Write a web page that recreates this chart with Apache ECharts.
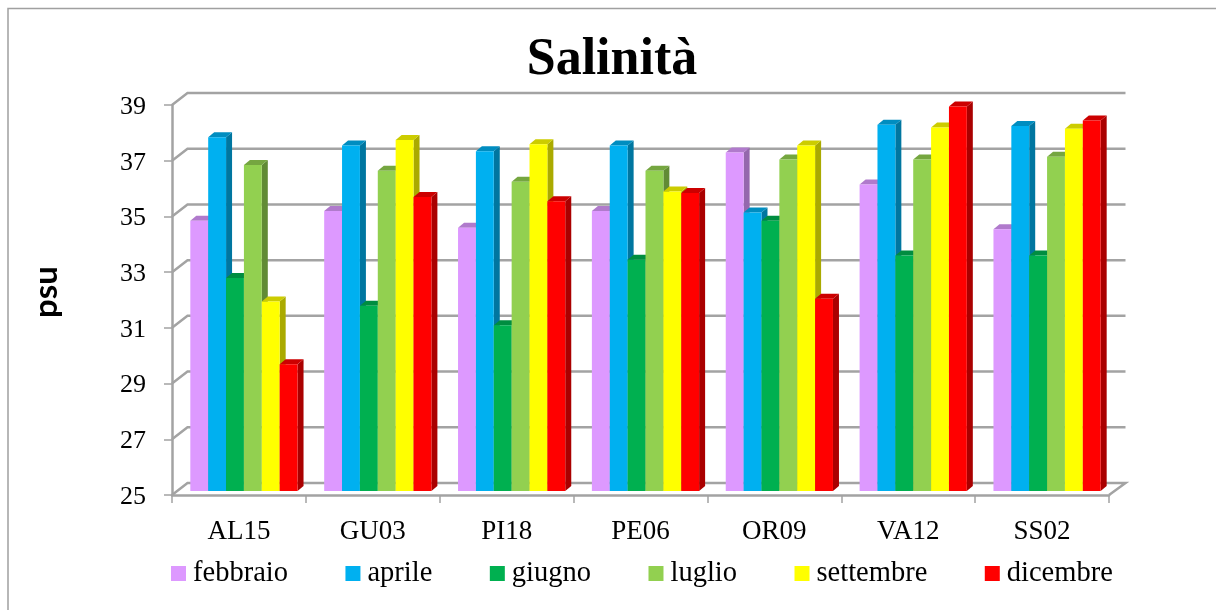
<!DOCTYPE html>
<html>
<head>
<meta charset="utf-8">
<title>Salinità</title>
<script src="https://cdn.jsdelivr.net/npm/echarts@6/dist/echarts.min.js"></script>
<style>
  html, body { margin: 0; padding: 0; background: #fff; }
  #main { width: 1216px; height: 610px; }
</style>
</head>
<body>
<div id="main"></div>
<script>
const stations = ['AL15', 'GU03', 'PI18', 'PE06', 'OR09', 'VA12', 'SS02']
const yTicks = [25, 27, 29, 31, 33, 35, 37, 39]

const febbraio = [34.7, 35.05, 34.45, 35.05, 37.15, 36.0, 34.4]
const aprile = [37.7, 37.4, 37.2, 37.4, 35.0, 38.15, 38.1]
const giugno = [32.65, 31.65, 30.95, 33.3, 34.7, 33.45, 33.45]
const luglio = [36.7, 36.5, 36.1, 36.5, 36.9, 36.9, 37.0]
const settembre = [31.8, 37.6, 37.45, 35.75, 37.4, 38.05, 38.0]
const dicembre = [29.55, 35.55, 35.4, 35.7, 31.9, 38.8, 38.3]

const serif = '"Liberation Serif", serif'
const gridColor = '#a3a3a3'

// front, top and side faces of each series
const months = [
  { name: 'febbraio', values: febbraio, color: '#DD99FF', top: '#B07ACC', side: '#9468AD' },
  { name: 'aprile', values: aprile, color: '#00B0F0', top: '#008DC0', side: '#0076A0' },
  { name: 'giugno', values: giugno, color: '#00B050', top: '#008D40', side: '#007636' },
  { name: 'luglio', values: luglio, color: '#92D050', top: '#75A640', side: '#618B35' },
  { name: 'settembre', values: settembre, color: '#FFFF00', top: '#CCCC00', side: '#AAAA00' },
  { name: 'dicembre', values: dicembre, color: '#FF0000', top: '#CC0000', side: '#AA0000' }
]

// 3d look: how far the back wall and the bars are pushed back
const wallDx = 15.5
const wallDy = -12
const barDx = 6
const barDy = -5
const barShiftX = 5
const barShiftY = -4
const barShare = 0.1335

function renderWall(params, api) {
  const v = api.value(0)
  const y = api.coord([0, v])[1]
  const x0 = params.coordSys.x
  const x1 = x0 + params.coordSys.width
  const pts = [[x0, y], [x0 + wallDx, y + wallDy], [x1 + wallDx + 1, y + wallDy]]
  if (v === yTicks[0]) pts.push([x1, y])
  return {
    type: 'polyline',
    shape: { points: pts },
    style: { stroke: gridColor, lineWidth: 2.5, fill: null }
  }
}

function barRenderer(idx) {
  const m = months[idx]
  return function(params, api) {
    const cat = api.value(0)
    const w = api.size([1, 0])[0] * barShare
    const p = api.coord([cat, api.value(1)])
    const base = api.coord([cat, yTicks[0]])[1] + barShiftY
    const l = p[0] + barShiftX + (idx - 3) * w
    const r = l + w
    const t = p[1] + barShiftY
    return {
      type: 'group',
      children: [
        { type: 'polygon', shape: { points: [[r, t], [r + barDx, t + barDy], [r + barDx, base + barDy], [r, base]] }, style: { fill: m.side } },
        { type: 'polygon', shape: { points: [[l, t], [l + barDx, t + barDy], [r + barDx, t + barDy], [r, t]] }, style: { fill: m.top } },
        { type: 'rect', shape: { x: l, y: t, width: w, height: base - t }, style: { fill: m.color } }
      ]
    }
  }
}

const series = [{
  name: 'wall',
  type: 'custom',
  z: 1,
  silent: true,
  renderItem: renderWall,
  encode: { x: -1, y: 0 },
  data: yTicks.map(v => [v])
}]

months.forEach((m, idx) => {
  series.push({
    name: m.name,
    type: 'custom',
    z: 2 + idx,
    renderItem: barRenderer(idx),
    itemStyle: { color: m.color },
    encode: { x: 0, y: 1 },
    data: m.values.map((v, i) => [i, v])
  })
})

const myChart = echarts.init(document.getElementById('main'))
myChart.setOption({
  animation: false,
  title: {
    text: 'Salinità',
    left: 607,
    top: 30,
    textAlign: 'center',
    textStyle: { fontFamily: serif, fontWeight: 'bold', fontSize: 52, color: '#000' }
  },
  grid: { left: 172, top: 105, width: 937, height: 390, containLabel: false },
  legend: {
    left: 171,
    top: 559,
    padding: 0,
    icon: 'rect',
    itemWidth: 15,
    itemHeight: 15,
    itemGap: 57.5,
    data: months.map(m => m.name),
    textStyle: { fontFamily: serif, fontSize: 28.5, color: '#000', padding: [0, 0, 0, 2] }
  },
  xAxis: {
    type: 'category',
    data: stations,
    axisLine: { lineStyle: { color: gridColor, width: 2.5 } },
    axisTick: { show: true, length: 8, lineStyle: { color: gridColor, width: 1.5 } },
    axisLabel: { fontFamily: serif, fontSize: 27, color: '#000', margin: 23 }
  },
  yAxis: {
    type: 'value',
    min: 25,
    max: 39,
    interval: 2,
    splitLine: { show: false },
    axisLine: { show: true, lineStyle: { color: gridColor, width: 2.5 } },
    axisTick: { show: true, length: 8, lineStyle: { color: gridColor, width: 1.5 } },
    // top + short line box nudges the digits down onto the tick
    axisLabel: { fontFamily: serif, fontSize: 26, color: '#000', margin: 26, verticalAlign: 'top', lineHeight: 4 }
  },
  graphic: [
    {
      type: 'polyline',
      silent: true,
      shape: { points: [[8, 610], [8, 8.5], [1216, 8.5]] },
      style: { stroke: '#a0a0a0', lineWidth: 1.5, fill: null }
    },
    {
      type: 'text',
      x: 46,
      y: 292,
      rotation: Math.PI / 2,
      silent: true,
      style: {
        text: 'psu',
        fontFamily: 'Lato, "Open Sans", sans-serif',
        fontWeight: 'bold',
        fontSize: 33,
        fill: '#000',
        align: 'center',
        verticalAlign: 'middle'
      }
    }
  ],
  series: series
})
</script>
</body>
</html>
